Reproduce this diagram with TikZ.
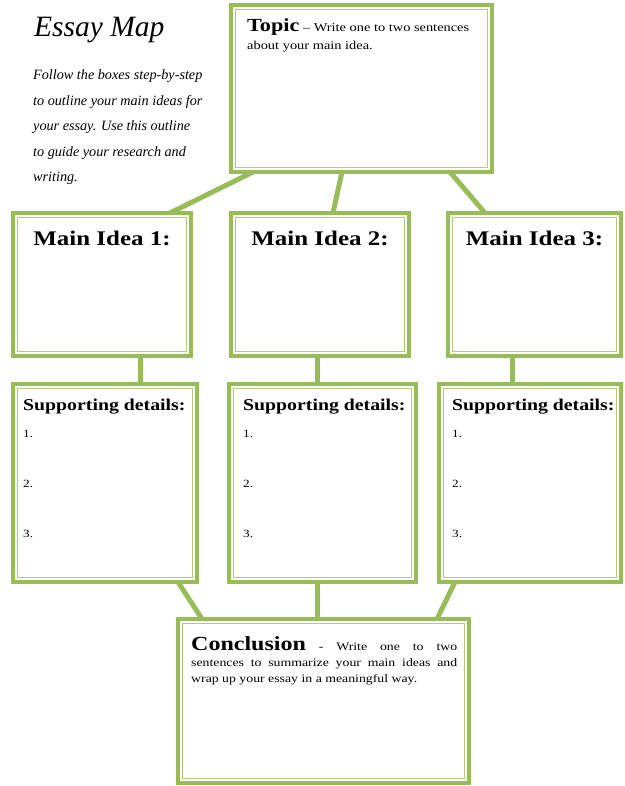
\documentclass[tikz,border=0pt]{standalone}
\usepackage{fontspec}
\setmainfont{Liberation Serif}[FakeStretch=1.2]
\newfontfamily\handfont{Liberation Serif}
\usetikzlibrary{calc}
\definecolor{boxgreen}{RGB}{152,188,88}
\definecolor{innergreen}{RGB}{175,204,124}
\pgfdeclarelayer{background}
\pgfsetlayers{background,main}
\begin{document}
\begin{tikzpicture}[x=1pt,y=-1pt,
  box/.style={draw=boxgreen, line width=3.5pt, fill=white, anchor=north west,
    inner sep=0pt, outer sep=0pt},
  innerline/.style={draw=innergreen, line width=1.6pt},
  conn/.style={draw=boxgreen, line width=5pt},
  headfont/.style={font=\bfseries\fontsize{20.8}{24}\selectfont},
  supfont/.style={font=\bfseries\fontsize{16.5}{20}\selectfont},
  numfont/.style={font=\fontsize{11}{13}\selectfont},
  handtitle/.style={font=\handfont\itshape\fontsize{29.5}{32}\selectfont},
  handtext/.style={font=\handfont\itshape\fontsize{14.2}{25.5}\selectfont}]
\useasboundingbox (0,0) rectangle (624,786);

% boxes
\node[box, minimum width=261pt, minimum height=167pt] (topic) at (231,5) {};
\node[box, minimum width=178pt, minimum height=143pt] (m1) at (13,213) {};
\node[box, minimum width=178pt, minimum height=143pt] (m2) at (231,213) {};
\node[box, minimum width=173pt, minimum height=143pt] (m3) at (448,213) {};
\node[box, minimum width=184pt, minimum height=198pt] (s1) at (13,384) {};
\node[box, minimum width=187pt, minimum height=198pt] (s2) at (229,384) {};
\node[box, minimum width=182pt, minimum height=198pt] (s3) at (439,384) {};
\node[box, minimum width=291pt, minimum height=164pt] (conc) at (178,619) {};

\foreach \n in {topic,m1,m2,m3,s1,s2,s3,conc}
  \draw[innerline] ($(\n.north west)+(4.4,4.4)$) rectangle ($(\n.south east)+(-4.4,-4.4)$);

% connectors
\begin{pgfonlayer}{background}
\draw[conn] ($(topic.south west)+(22,0)$) -- ($(m1.north east)+(-21,0)$);
\draw[conn] ($(topic.south west)+(111,0)$) -- ($(m2.north west)+(102,0)$);
\draw[conn] ($(topic.south east)+(-42,0)$) -- ($(m3.north west)+(37,0)$);
\draw[conn] ($(m1.south west)+(127,0)$) -- ($(s1.north west)+(127,0)$);
\draw[conn] ($(m2.south west)+(86,0)$) -- ($(s2.north west)+(88,0)$);
\draw[conn] ($(m3.south west)+(64,0)$) -- ($(s3.north west)+(73,0)$);
\draw[conn] ($(s1.south west)+(165,0)$) -- ($(conc.north west)+(24,0)$);
\draw[conn] ($(s2.south west)+(88,0)$) -- ($(conc.north west)+(139,0)$);
\draw[conn] ($(s3.south west)+(16,0)$) -- ($(conc.north west)+(259,0)$);
\end{pgfonlayer}

% title and instructions
\node[handtitle, anchor=base west, inner sep=0pt] (title) at (34,37) {Essay Map};
\node[handtext, anchor=base west, inner sep=0pt] (instr) at (33,80)
  {\parbox[t]{200pt}{\raggedright Follow the boxes step-by-step\\
   to outline your main ideas for\\ your essay. Use this outline\\
   to guide your research and\\ writing.}};

% topic text
\node[anchor=base west, inner sep=0pt] (topictext) at ($(topic.north west)+(16,27)$)
  {\parbox[t]{240pt}{\fontsize{12}{17.5}\selectfont\raggedright
   {\bfseries\fontsize{18.5}{20}\selectfont Topic} -- Write one to two sentences\\
   about your main idea.}};

% main ideas
\node[headfont, anchor=base, inner sep=0pt] (m1t) at ($(m1.north)+(0,32)$) {Main Idea 1:};
\node[headfont, anchor=base, inner sep=0pt] (m2t) at ($(m2.north)+(0,32)$) {Main Idea 2:};
\node[headfont, anchor=base, inner sep=0pt] (m3t) at ($(m3.north)+(0,32)$) {Main Idea 3:};

% supporting details
\foreach \s/\dx in {s1/10, s2/14, s3/13}{
  \node[supfont, anchor=base west, inner sep=0pt] (\s t) at ($(\s.north west)+(\dx,26)$) {Supporting details:};
  \node[numfont, anchor=base west, inner sep=0pt] (\s n1) at ($(\s.north west)+(\dx,53)$) {1.};
  \node[numfont, anchor=base west, inner sep=0pt] (\s n2) at ($(\s.north west)+(\dx,103)$) {2.};
  \node[numfont, anchor=base west, inner sep=0pt] (\s n3) at ($(\s.north west)+(\dx,153)$) {3.};
}

% conclusion text
\node[anchor=base west, inner sep=0pt] (conctext) at ($(conc.north west)+(13,31)$)
  {\parbox[t]{266pt}{\fontsize{11.5}{16}\selectfont
   \makebox[266pt][s]{{\bfseries\fontsize{20}{20}\selectfont Conclusion} - Write one to two}\\
   \makebox[266pt][s]{sentences to summarize your main ideas and}\\
   wrap up your essay in a meaningful way.}};
\end{tikzpicture}
\end{document}
